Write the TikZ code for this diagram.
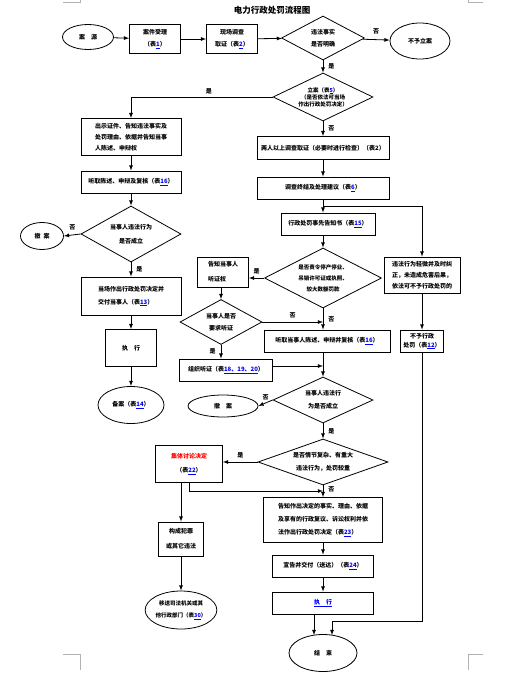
\documentclass[tikz,border=0pt]{standalone}
\usepackage{fontspec}
\setmainfont{Noto Sans CJK SC}
\usepackage{tikz}
\usetikzlibrary{shapes,arrows,positioning,calc}
\usepackage{xcolor}

\newcommand{\biao}[1]{\textcolor{blue}{\underline{#1}}}

\tikzset{
  box/.style={draw,rectangle,line width=0.8pt,inner sep=1pt,align=center,font=\fontsize{6}{10}\selectfont\bfseries},
  dec/.style={draw,diamond,aspect=2.5,line width=0.8pt,inner sep=0pt,align=center,font=\fontsize{6}{10}\selectfont\bfseries},
  term/.style={draw,ellipse,line width=0.8pt,inner sep=0pt,align=center,font=\fontsize{6}{10}\selectfont\bfseries},
  sz/.style 2 args={minimum width=#1pt,minimum height=#2pt},
  lbl/.style={font=\fontsize{6}{7}\selectfont\bfseries,inner sep=0pt},
  arr/.style={->,>=latex,line width=0.8pt},
}

\begin{document}
\begin{tikzpicture}[x=1pt,y=-1pt]
\useasboundingbox (0,0) rectangle (520,680);
% page corner marks
\foreach \cx/\dx in {80/-17,468/15} {
  \draw[gray!60,line width=0.5pt] (\cx+\dx,2) -| (\cx,0);
  \draw[gray!60,line width=0.5pt] (\cx+\dx,654) -| (\cx,670);
}

\node[font=\fontsize{8.5}{10}\selectfont\bfseries] (title) at (272,10) {电力行政处罚流程图};

% top row
\node[term,sz={51}{25}] (src) at (88,37) {案\hspace{6pt}源};
\node[box,sz={51}{29},font=\fontsize{6}{12}\selectfont\bfseries] (accept) at (155,39) {案件受理\\（表\biao{1}）};
\node[box,sz={51}{29},font=\fontsize{6}{12}\selectfont\bfseries] (survey) at (232,39) {现场调查\\取证（表\biao{2}）};
\node[dec,sz={83}{44},font=\fontsize{6}{12}\selectfont\bfseries] (clear) at (323,38) {违法事实\\是否明确};
\node[term,sz={60}{36}] (noreg) at (420,41) {不予立案};

% main column
\node[dec,sz={100}{48},font=\fontsize{5.5}{7}\selectfont\bfseries] (file) at (323,97) {立案（表\biao{5}）\\（是否依法可当场\\作出行政处罚决定）};
\node[box,sz={132}{23}] (twoppl) at (323,148) {两人以上调查取证（必要时进行检查）（表2）};
\node[box,sz={132}{22}] (end) at (323,188) {调查终结及处理建议（表\biao{6}）};
\node[box,sz={94}{22}] (notice) at (328,224) {行政处罚事先告知书（表\biao{15}）};
\node[dec,aspect=2,sz={117}{60},font=\fontsize{5.5}{11}\selectfont\bfseries] (big) at (323,278) {是否责令停产停业、\\吊销许可证或执照、\\较大数额罚款};
\node[box,sz={126}{22}] (state) at (327,341) {听取当事人陈述、申辩并复核（表\biao{16}）};
\node[dec,sz={100}{46},font=\fontsize{6}{13}\selectfont\bfseries] (valid) at (323,400) {当事人违法行\\为是否成立};
\node[dec,sz={130}{46},font=\fontsize{6}{13}\selectfont\bfseries] (heavy) at (323,462) {是否情节复杂、有重大\\违法行为，处罚较重};
\node[box,sz={119}{45},align=left,font=\fontsize{6}{13}\selectfont\bfseries] (decide) at (323,520) {告知作出决定的事实、理由、依据\\及享有的行政复议、诉讼权利并依\\法作出行政处罚决定（表\biao{23}）};
\node[box,sz={101}{22}] (deliver) at (323,566) {宣告并交付（送达）（表\biao{24}）};
\node[box,sz={101}{22}] (exec) at (323,603) {\biao{执\hspace{6pt}行}};
\node[term,sz={68}{37}] (finish) at (323,653) {结\hspace{6pt}束};

% hearing branch
\node[box,sz={51}{30},align=left,font=\fontsize{6}{15}\selectfont\bfseries] (tellh) at (223,272) {告知当事人\\听证权};
\node[dec,sz={82}{45},font=\fontsize{6}{12}\selectfont\bfseries] (askh) at (221,322) {当事人是否\\要求听证};
\node[box,sz={93}{22}] (orgh) at (226,370) {组织听证（表\biao{18、19、20}）};
\node[term,sz={70}{22}] (cancel) at (223,406) {撤\hspace{6pt}案};
\node[box,sz={67}{37},font=\fontsize{6}{14}\selectfont\bfseries] (group) at (189,464) {\textcolor{red}{集体讨论决定}\\（表\biao{22}）};
\node[box,sz={45}{34},font=\fontsize{6}{15}\selectfont\bfseries] (crime) at (181,539) {构成犯罪\\或其它违法};
\node[term,sz={67}{38},font=\fontsize{5.5}{12}\selectfont\bfseries] (transfer) at (181,610) {移送司法机关或其\\他行政部门（表\biao{30}）};

% right column
\node[box,sz={76}{36},align=left,font=\fontsize{6}{11}\selectfont\bfseries] (minor) at (422,275) {违法行为轻微并及时纠\\正，未造成危害后果，\\依法可不予行政处罚的};
\node[box,sz={43}{22},font=\fontsize{6}{9}\selectfont\bfseries] (nopun) at (422,341) {不予行政\\处罚（表\biao{12}）};

% left column
\node[box,sz={100}{37},align=left,font=\fontsize{6}{11}\selectfont\bfseries] (spot) at (131,137) {出示证件、告知违法事实及\\处罚理由、依据并告知当事\\人陈述、申辩权};
\node[box,sz={100}{22}] (lstate) at (131,182) {听取陈述、申辩及复核（表\biao{16}）};
\node[dec,sz={100}{56},font=\fontsize{6}{14}\selectfont\bfseries] (lvalid) at (131,234) {当事人违法行为\\是否成立};
\node[term,sz={43}{27}] (lcancel) at (42,236) {撤\hspace{3pt}案};
\node[box,sz={100}{38},align=left,font=\fontsize{6}{13}\selectfont\bfseries] (lsentence) at (131,296) {当场作出行政处罚决定并\\交付当事人（表\biao{13}）};
\node[box,sz={51}{37}] (lexec) at (131,348) {执\hspace{6pt}行};
\node[term,sz={66}{37}] (record) at (131,405) {备案（表\biao{14}）};

\coordinate (split) at (323,206);
\coordinate (turn) at (332,621);
\coordinate (merge) at (189,491);

% connectors
\draw[arr] (src) -- (accept);
\draw[arr] (accept) -- (survey);
\draw[arr] (survey) -- (clear);
\draw[arr] (clear) -- node[lbl,above=5pt]{否} (noreg);
\draw[arr] (clear) -- node[lbl,right=5pt]{是} (file);
\draw[arr] (file.west) -| node[lbl,pos=0.225,above=3pt]{是} (spot.north);
\draw[arr] (file) -- node[lbl,right=5pt]{否} (twoppl);
\draw[arr] (twoppl) -- (end);
\draw[arr] (end.south) -- (end.south |- notice.north);
\draw[arr] (split) -| (minor.north);
\draw[arr] (notice.south -| big.north) -- (big.north);
\draw[arr] (big.west) -- node[lbl,above=4pt]{是} (big.west -| tellh.east);
\draw[arr] (tellh.south -| askh.north) -- (askh.north);
\draw[arr] (askh.south) -- node[lbl,left=5pt]{是} (askh.south |- orgh.north);
\draw[arr] (askh.east) -- node[lbl,above=4pt]{否} (askh.east -| big.south);
\draw[arr] (big.south) -- node[lbl,right=5pt]{否} (big.south |- state.north);
\draw[arr] ($(orgh.east)+(0,-4)$) -- ($(orgh.east -| big.south)+(0,-4)$);
\draw[arr] (valid.north |- state.south) -- (valid.north);
\draw[arr] (valid.west) -- node[lbl,above=3pt]{否} (cancel.east);
\draw[arr] (valid.south) -- node[lbl,right=5pt]{是} (heavy.north);
\draw[arr] (heavy.west) -- node[lbl,above=4pt]{是} (heavy.west -| group.east);
\draw[arr] (heavy.south) -- node[lbl,right=5pt,pos=0.3]{否} (decide.north);
\draw[line width=0.8pt] (group.south -| merge) -- (merge);
\draw[arr] (merge) -- (merge -| decide.north);
\draw[arr] (crime.north |- group.south) -- (crime.north);
\draw[arr] (crime) -- (transfer);
\draw[arr] (decide) -- (deliver);
\draw[arr] (deliver) -- (exec);
\draw[arr] ($(exec.south)+(-9,0)$) -- ($(finish.north)+(-9,1)$);
\draw[arr] (minor.south) -- (nopun.north);
\draw[arr] (nopun.south) |- (turn) -- ($(finish.north)+(9,1)$);
\draw[arr] (spot) -- (lstate);
\draw[arr] (lstate) -- (lvalid);
\draw[arr] (lvalid.west) -- node[lbl,above=5pt]{否} (lcancel.east);
\draw[arr] (lvalid.south) -- node[lbl,right=5pt]{是} (lsentence.north);
\draw[arr] (lsentence) -- (lexec);
\draw[arr] (lexec) -- (record);
\end{tikzpicture}
\end{document}
